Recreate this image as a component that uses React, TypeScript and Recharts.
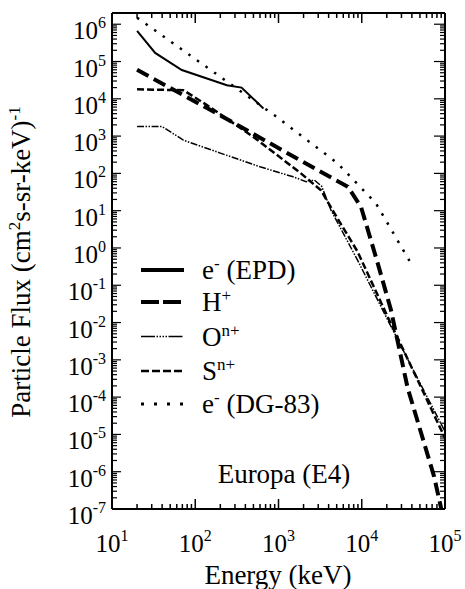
import React from 'react';
import { LineChart, Line, XAxis, YAxis, Legend } from 'recharts';

// Energy (keV) / flux
const epdE = [20, 33, 69, 240, 360, 660];
const epdF = [6.6e5, 1.7e5, 5.9e4, 2.3e4, 2.0e4, 5.5e3];

const hE = [20, 180, 2950, 6800, 9800, 15500, 22400, 35500, 74000, 89000, 93000];
const hF = [6e4, 4.1e3, 123, 44, 12.6, 0.4, 0.022, 1.8e-4, 7.4e-7, 1.15e-7, 6e-8];

const oE = [20, 40, 72, 200, 600, 1500, 2150, 2700, 3300, 4300, 9000, 20400, 46800, 100000];
const oF = [1.8e3, 1.8e3, 780, 350, 150, 81, 60, 66, 45, 10, 0.45, 0.012, 3.2e-4, 1.2e-5];

const sE = [20, 72, 138, 500, 1860, 3240, 4700, 8900, 20400, 46800, 100000];
const sF = [1.8e4, 1.7e4, 6.8e3, 950, 100, 35, 8.5, 0.8, 0.0145, 2.9e-4, 8e-6];

const dgE = [20, 912, 5130, 14800, 38900];
const dgF = [1.5e6, 3.5e3, 186, 15.8, 0.39];

const xDecades = [10, 100, 1000, 10000, 100000];
const yDecades = [1e-7, 1e-6, 1e-5, 1e-4, 1e-3, 1e-2, 1e-1, 1, 10, 100, 1e3, 1e4, 1e5, 1e6];

const toRows = (es: number[], fs: number[]) => es.map((e, i) => ({ e, f: fs[i] }));

const series = [
  { key: 'epd', data: toRows(epdE, epdF), width: 2, dash: undefined, lw: 4, ldash: undefined, label: 'e', sup: '-', rest: ' (EPD)' },
  { key: 'h', data: toRows(hE, hF), width: 4, dash: '13 6', lw: 4, ldash: '18 4', label: 'H', sup: '+', rest: '' },
  { key: 'o', data: toRows(oE, oF), width: 1.5, dash: '7 1.5 1.5 1.5 1.5 1.5', lw: 1.5, ldash: '14 1.5 1.5 1.5 1.5 1.5 1.5 1.5 1.5 1.5', label: 'O', sup: 'n+', rest: '' },
  { key: 's', data: toRows(sE, sF), width: 2.5, dash: '7 3', lw: 2.5, ldash: '8 3', label: 'S', sup: 'n+', rest: '' },
  { key: 'dg', data: toRows(dgE, dgF), width: 2.5, dash: '2.5 8', lw: 3, ldash: '3 10', label: 'e', sup: '-', rest: ' (DG-83)' },
];

// minor tick positions, 1..9 per decade
const minors = (decades: number[]) => {
  const out: number[] = [];
  decades.forEach((d, i) => {
    if (i === decades.length - 1) { out.push(d); return; }
    for (let m = 1; m <= 9; m++) out.push(m * d);
  });
  return out;
};
const xTicks = minors(xDecades);
const yTicks = minors(yDecades);

const serif = { fontFamily: "'Liberation Serif', 'DejaVu Serif', serif" };

const isDecade = (v: number) => Math.abs(Math.log10(v) - Math.round(Math.log10(v))) < 1e-6;
const expOf = (v: number) => String(Math.round(Math.log10(v)));

const BottomTick = (props: any) => {
  const { x, y, payload } = props;
  const major = isDecade(payload.value);
  return (
    <g>
      <line x1={x} x2={x} y1={y} y2={y - (major ? 10 : 5)} stroke="#000" strokeWidth={1.5} />
      {major && (
        <text x={x} y={y + 43} textAnchor="middle" style={serif} fontSize={25} fill="#000">
          10<tspan dy={-11} fontSize={16}>{expOf(payload.value)}</tspan>
        </text>
      )}
    </g>
  );
};

const TopTick = (props: any) => {
  const { x, y, payload } = props;
  const major = isDecade(payload.value);
  return <line x1={x} x2={x} y1={y} y2={y + (major ? 10 : 5)} stroke="#000" strokeWidth={1.5} />;
};

const LeftTick = (props: any) => {
  const { x, y, payload } = props;
  const major = isDecade(payload.value);
  return (
    <g>
      <line x1={x} x2={x + (major ? 9 : 5)} y1={y} y2={y} stroke="#000" strokeWidth={1.2} />
      {major && (
        <text x={x - 6} y={y + 15} textAnchor="end" style={serif} fontSize={25} fill="#000">
          10<tspan dy={-11} fontSize={16}>{expOf(payload.value)}</tspan>
        </text>
      )}
    </g>
  );
};

const RightTick = (props: any) => {
  const { x, y, payload } = props;
  const major = isDecade(payload.value);
  return <line x1={x} x2={x - (major ? 11 : 5)} y1={y} y2={y} stroke="#000" strokeWidth={1.2} />;
};

const YTitle = () => (
  <text
    x={30}
    y={262}
    transform="rotate(-90 30 262)"
    textAnchor="middle"
    style={serif}
    fontSize={27}
    fill="#000"
  >
    Particle Flux (cm<tspan dy={-10} fontSize={17}>2</tspan>
    <tspan dy={10}>s-sr-keV)</tspan>
    <tspan dy={-10} fontSize={17}>-1</tspan>
  </text>
);

const XTitle = () => (
  <text x={278} y={584} textAnchor="middle" style={serif} fontSize={27} fill="#000">
    Energy (keV)
  </text>
);

const rowY = [20, 52, 86.5, 121, 154];

const LegendBox = () => (
  <svg width={200} height={170} style={{ overflow: 'visible' }}>
    {series.map((s, i) => (
      <g key={s.key}>
        <line x1={11} x2={54} y1={rowY[i]} y2={rowY[i]} stroke="#000" strokeWidth={s.lw} strokeDasharray={s.ldash} />
        <text x={72} y={rowY[i] + 9} style={serif} fontSize={27} fill="#000">
          {s.label}
          <tspan dy={-10} fontSize={17}>{s.sup}</tspan>
          {s.rest && <tspan dy={10}>{s.rest}</tspan>}
        </text>
      </g>
    ))}
  </svg>
);

export default function App() {
  return (
    <div style={{ position: 'absolute', left: 0, top: 0, background: '#fff' }}>
      <LineChart width={465} height={589} margin={{ top: 10, right: 10, bottom: 10, left: 12 }}>
        <XAxis
          xAxisId="b"
          dataKey="e"
          type="number"
          scale="log"
          domain={[10, 100000]}
          allowDataOverflow
          ticks={xTicks}
          interval={0}
          height={70}
          tickSize={0}
          tickMargin={0}
          tickLine={false}
          axisLine={{ stroke: '#000', strokeWidth: 2 }}
          tick={<BottomTick />}
          label={<XTitle />}
        />
        <XAxis
          xAxisId="t"
          orientation="top"
          dataKey="e"
          type="number"
          scale="log"
          domain={[10, 100000]}
          allowDataOverflow
          ticks={xTicks}
          interval={0}
          height={3}
          tickSize={0}
          tickMargin={0}
          tickLine={false}
          axisLine={{ stroke: '#000', strokeWidth: 2 }}
          tick={<TopTick />}
        />
        <YAxis
          yAxisId="l"
          type="number"
          scale="log"
          domain={[1e-7, 2e6]}
          allowDataOverflow
          ticks={yTicks}
          interval={0}
          width={100}
          tickSize={0}
          tickMargin={0}
          tickLine={false}
          axisLine={{ stroke: '#000', strokeWidth: 2 }}
          tick={<LeftTick />}
          label={<YTitle />}
        />
        <YAxis
          yAxisId="r"
          orientation="right"
          type="number"
          scale="log"
          domain={[1e-7, 2e6]}
          allowDataOverflow
          ticks={yTicks}
          interval={0}
          width={10}
          tickSize={0}
          tickMargin={0}
          tickLine={false}
          axisLine={{ stroke: '#000', strokeWidth: 2 }}
          tick={<RightTick />}
        />
        <Legend
          layout="horizontal"
          verticalAlign="middle"
          align="center"
          wrapperStyle={{ left: 130, top: 250, width: 200, height: 170 }}
          content={() => <LegendBox />}
        />
        {series.map((s) => (
          <Line
            key={s.key}
            xAxisId="b"
            yAxisId="l"
            data={s.data}
            dataKey="f"
            type="linear"
            stroke="#000"
            strokeWidth={s.width}
            strokeDasharray={s.dash}
            dot={false}
            activeDot={false}
            isAnimationActive={false}
          />
        ))}
        <text x={284} y={483} textAnchor="middle" style={serif} fontSize={27} fill="#000">
          Europa (E4)
        </text>
      </LineChart>
    </div>
  );
}
